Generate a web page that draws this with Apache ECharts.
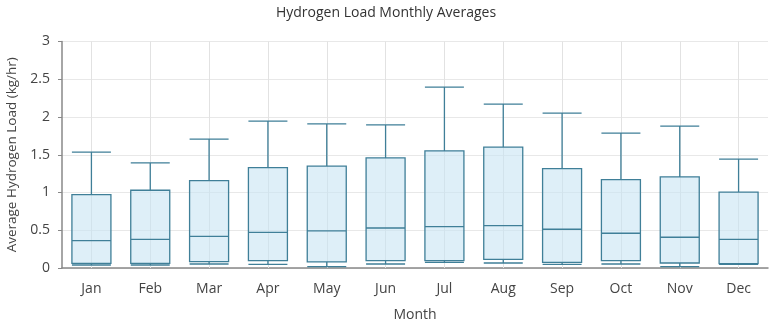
<!DOCTYPE html>
<html>
<head>
<meta charset="utf-8">
<script src="https://cdn.jsdelivr.net/npm/echarts@6/dist/echarts.min.js"></script>
<style>
  html, body { margin: 0; padding: 0; background: #fff; }
  #chart { width: 772px; height: 325px; }
</style>
</head>
<body>
<div id="chart"></div>
<script>
const months = ["Jan", "Feb", "Mar", "Apr", "May", "Jun", "Jul", "Aug", "Sep", "Oct", "Nov", "Dec"];
const lowValues = [0.04, 0.04, 0.053, 0.049, 0.017, 0.053, 0.075, 0.066, 0.049, 0.053, 0.017, 0.049];
const q1Values = [0.062, 0.062, 0.084, 0.097, 0.08, 0.097, 0.097, 0.115, 0.075, 0.097, 0.066, 0.057];
const medianValues = [0.363, 0.38, 0.42, 0.473, 0.491, 0.53, 0.548, 0.561, 0.513, 0.46, 0.407, 0.38];
const q3Values = [0.973, 1.03, 1.158, 1.33, 1.349, 1.459, 1.552, 1.6, 1.317, 1.171, 1.207, 1.004];
const highValues = [1.535, 1.393, 1.707, 1.945, 1.91, 1.897, 2.397, 2.171, 2.052, 1.786, 1.879, 1.441];

const boxData = months.map((m, i) => [lowValues[i], q1Values[i], medianValues[i], q3Values[i], highValues[i]]);

const font = "'Open Sans', sans-serif";
const chart = echarts.init(document.getElementById("chart"), null, { renderer: "canvas" });

chart.setOption({
  animation: false,
  title: {
    text: "Hydrogen Load Monthly Averages",
    left: "center",
    top: 1,
    textStyle: { fontSize: 14, fontWeight: "normal", color: "#333", fontFamily: font }
  },
  grid: { left: 62, right: 4, top: 41.5, bottom: 57, outerBoundsMode: "none" },
  xAxis: {
    type: "category",
    data: months,
    name: "Month",
    nameLocation: "middle",
    nameGap: 40,
    nameTextStyle: { fontSize: 14, color: "#444", fontFamily: font },
    axisLine: { lineStyle: { color: "#888", width: 1.5 } },
    axisTick: { alignWithLabel: true, length: 6, lineStyle: { color: "#888" } },
    axisLabel: { fontSize: 14, color: "#444", fontFamily: font, margin: 14 },
    splitLine: { show: false }
  },
  yAxis: {
    type: "value",
    min: 0,
    max: 3,
    interval: 0.5,
    name: "Average Hydrogen Load (kg/hr)",
    nameLocation: "middle",
    nameGap: 35,
    nameTextStyle: { fontSize: 13.5, color: "#444", fontFamily: font },
    axisLine: { show: true, lineStyle: { color: "#888", width: 1.5 } },
    axisTick: { show: true, length: 4, lineStyle: { color: "#888" } },
    axisLabel: { fontSize: 14, color: "#444", fontFamily: font, margin: 12 },
    splitLine: { lineStyle: { color: "#e8e8e8" } }
  },
  series: [
    {
      // vertical grid lines through each month's centre
      type: "line",
      data: [],
      z: 1,
      silent: true,
      markLine: {
        silent: true,
        z: 1,
        symbol: "none",
        label: { show: false },
        lineStyle: { color: "#e2e2e2", type: "solid", width: 1 },
        data: months.map(m => ({ xAxis: m }))
      }
    },
    {
      type: "boxplot",
      data: boxData,
      z: 3,
      boxWidth: [39, 39],
      itemStyle: { color: "rgba(200,228,244,0.6)", borderColor: "#3f7f98", borderWidth: 1.3 }
    }
  ]
});
</script>
</body>
</html>
